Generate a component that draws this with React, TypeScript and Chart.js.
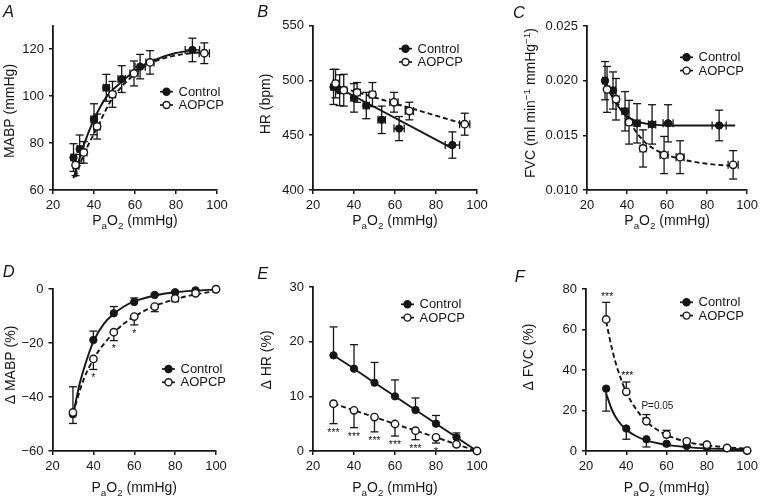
import React, { useEffect, useRef } from 'react';
import { Chart, registerables } from 'chart.js';

Chart.register(...registerables);

const FONT = "'Liberation Sans', Arial, Helvetica, sans-serif";
const INK = '#161616';

// ---------------- shared ----------------
const xMin = 20;
const xMax = 100;
const xStep = 20;
const ctrlXErr = [1.2, 1.2, 1.5, 1.5, 1.8, 2.5, 3.5];
const aopXErr = [1.2, 1.5, 1.5, 1.5, 2, 2, 2.5];
const pctX = [30, 40, 50, 60, 70, 80, 90, 100];
const legendLabels = ['Control', 'AOPCP'];

// ---------------- Panel A : MABP ----------------
const aCtrlX = [30, 33, 40, 46, 53.5, 62.5, 88];
const aCtrlY = [73.8, 77.4, 90.1, 103.5, 107.2, 112.5, 119.6];
const aCtrlSd = [5.9, 6, 6.6, 5.7, 5.7, 5.2, 5];
const aAopX = [31, 35, 41.5, 49, 59.5, 67.3, 93.8];
const aAopY = [70.6, 76, 87, 100.7, 109.6, 114.3, 118.2];
const aAopSd = [4.5, 4.6, 5.3, 5.5, 5.3, 5, 4.4];
const aCtrlFitX = [30, 35, 40, 46, 53.5, 62, 70, 80, 90];
const aCtrlFitY = [65, 79, 90, 99.5, 106, 112, 115.5, 118.3, 119.6];
const aAopFitX = [31, 35, 41.5, 49, 59.5, 67.3, 80, 94];
const aAopFitY = [65.5, 75, 86.5, 99, 109, 113.8, 117.3, 118.8];

// ---------------- Panel B : HR ----------------
const bCtrlX = [30, 33, 40, 46, 53.5, 62, 88];
const bCtrlY = [494, 491, 484, 477, 464, 456, 441];
const bCtrlSd = [16, 14, 13, 12, 12.5, 11, 12];
const bAopX = [31, 35, 41.5, 49, 59.5, 67, 94];
const bAopY = [497, 491, 489, 487, 480, 472, 460];
const bAopSd = [13, 14.5, 9, 11, 9, 8, 10];
const bCtrlFitX = [30, 88];
const bCtrlFitY = [495.5, 438];
const bAopFitX = [31, 94];
const bAopFitY = [495, 460];

// ---------------- Panel C : FVC ----------------
const cCtrlX = [29, 33, 39, 45, 52.5, 60.5, 86];
const cCtrlY = [0.02, 0.0191, 0.0172, 0.0161, 0.016, 0.0161, 0.0159];
const cCtrlSd = [0.00175, 0.0017, 0.0018, 0.0018, 0.0018, 0.0017, 0.0014];
const cAopX = [30, 34.5, 41, 48, 58.5, 66.5, 93];
const cAopY = [0.0192, 0.0183, 0.0162, 0.0138, 0.0132, 0.013, 0.0123];
const cAopSd = [0.0021, 0.0019, 0.002, 0.0017, 0.0017, 0.0015, 0.0013];
const cCtrlFitX = [29, 32, 35, 38, 42, 46, 52, 60, 70, 94];
const cCtrlFitY = [0.0199, 0.0187, 0.0178, 0.0171, 0.0165, 0.0162, 0.016, 0.0159, 0.0159, 0.0159];
const cAopFitX = [30, 35, 40, 45, 50, 55, 60, 70, 80, 93];
const cAopFitY = [0.0193, 0.018, 0.0166, 0.0152, 0.0142, 0.0136, 0.0132, 0.0127, 0.0124, 0.0122];

// ---------------- Panel D : delta MABP ----------------
const dCtrlY = [-46.4, -18.9, -9.0, -4.8, -2.2, -1.2, -0.5, 0];
const dCtrlUp = [0, 3.3, 2.5, 1.5, 0.5, 0.3, 0.2, 0];
const dCtrlDn = [3.4, 0, 0, 0, 0, 0, 0, 0];
const dAopY = [-45.7, -25.9, -16.0, -10.2, -6.5, -3.5, -1.6, -0.1];
const dAopUp = [9.5, 0, 0, 0, 0, 0, 0, 0];
const dAopDn = [0, 3.9, 3.1, 3.1, 1.9, 1.2, 0.5, 0];
const dAopMarks = ['', '*', '*', '*', '', '', '', ''];
const dCtrlFitX = [30, 33, 36, 40, 45, 50, 55, 60, 70, 80, 90, 100];
const dCtrlFitY = [-47, -36, -28, -19.5, -13, -9.2, -6.5, -4.6, -2.4, -1.2, -0.6, -0.2];
const dAopFitX = [30, 35, 40, 45, 50, 55, 60, 70, 80, 90, 100];
const dAopFitY = [-46, -34, -26, -20.5, -16.2, -12.8, -10.2, -6.3, -3.8, -2.0, -0.8];

// ---------------- Panel E : delta HR ----------------
const eCtrlY = [17.5, 15.06, 12.5, 10, 7.5, 5, 2.5, 0];
const eCtrlUp = [5.2, 4.4, 3.7, 3.0, 2.2, 1.5, 0.8, 0];
const eAopY = [8.66, 7.44, 6.2, 4.94, 3.72, 2.5, 1.22, 0];
const eAopDn = [3.66, 3.17, 2.7, 2.2, 1.65, 1.04, 0.3, 0];
const eAopMarks = ['***', '***', '***', '***', '***', '*', '', ''];
const zeros8 = [0, 0, 0, 0, 0, 0, 0, 0];

// ---------------- Panel F : delta FVC ----------------
const fCtrlY = [30.8, 11.1, 5.8, 3.6, 2.5, 1.8, 1.3, 0.2];
const fCtrlDn = [11.1, 5.3, 3.8, 1, 0.5, 0.3, 0.2, 0];
const fAopY = [65.0, 29.2, 14.7, 8.1, 4.8, 3.1, 1.5, 0.2];
const fAopUp = [8.4, 4.9, 3.3, 2.1, 1.0, 0.5, 0.3, 0];
const fAopMarks = ['***', '***', 'P=0.05', '', '', '', '', ''];
const fCtrlFitX = [30, 33, 36, 40, 45, 50, 60, 70, 80, 90, 100];
const fCtrlFitY = [28.4, 20, 14.8, 10.5, 7.3, 5.2, 3, 1.9, 1.3, 1.0, 0.8];
const fAopFitX = [30, 33, 36, 40, 45, 50, 55, 60, 70, 80, 90, 100];
const fAopFitY = [64, 50, 39.5, 29, 20.5, 14.5, 10.7, 7.9, 4.5, 2.8, 1.8, 1.2];

// ---------------- types ----------------
type Seg = { t: string; s?: 'sub' | 'sup' };
interface Series {
  x: number[]; y: number[]; up: number[]; dn: number[]; xe?: number[];
  marks?: string[]; markSide?: 'above' | 'below';
}
interface Panel {
  letter: string; letterPos: [number, number];
  box: [number, number, number, number];
  area: [number, number, number, number];
  yMin: number; yMax: number; yStep: number; yBounds: boolean; yFmt?: (v: number) => string;
  yTitle: Seg[]; yTitlePos: [number, number];
  xTitleY: number; legendPos: [number, number];
  ctrl: Series; aop: Series;
  ctrlFit: [number[], number[]]; aopFit: [number[], number[]];
}

const xTitle: Seg[] = [{ t: 'P' }, { t: 'a', s: 'sub' }, { t: 'O' }, { t: '2', s: 'sub' }, { t: ' (mmHg)' }];
const minus = (v: number) => String(v).replace('-', '\u2212');

const PANELS: Panel[] = [
  {
    letter: 'A', letterPos: [3, 16.7], box: [0, 0, 254, 248], area: [53, 25.5, 217, 190],
    yMin: 60, yMax: 130, yStep: 20, yBounds: false,
    yTitle: [{ t: 'MABP (mmHg)' }], yTitlePos: [8.5, 111], xTitleY: 220, legendPos: [160, 91.7],
    ctrl: { x: aCtrlX, y: aCtrlY, up: aCtrlSd, dn: aCtrlSd, xe: ctrlXErr },
    aop: { x: aAopX, y: aAopY, up: aAopSd, dn: aAopSd, xe: aopXErr },
    ctrlFit: [aCtrlFitX, aCtrlFitY], aopFit: [aAopFitX, aAopFitY],
  },
  {
    letter: 'B', letterPos: [257.3, 16.7], box: [254, 0, 254, 248], area: [313, 25.5, 477, 190],
    yMin: 400, yMax: 550, yStep: 50, yBounds: true,
    yTitle: [{ t: 'HR (bpm)' }], yTitlePos: [265, 104], xTitleY: 220, legendPos: [399, 48.7],
    ctrl: { x: bCtrlX, y: bCtrlY, up: bCtrlSd, dn: bCtrlSd, xe: ctrlXErr },
    aop: { x: bAopX, y: bAopY, up: bAopSd, dn: bAopSd, xe: aopXErr },
    ctrlFit: [bCtrlFitX, bCtrlFitY], aopFit: [bAopFitX, bAopFitY],
  },
  {
    letter: 'C', letterPos: [513, 18], box: [508, 0, 254, 248], area: [587, 26, 751, 190],
    yMin: 0.01, yMax: 0.025, yStep: 0.005, yBounds: true, yFmt: (v) => v.toFixed(3),
    yTitle: [{ t: 'FVC (ml min' }, { t: '\u22121', s: 'sup' }, { t: ' mmHg' }, { t: '\u22121', s: 'sup' }, { t: ')' }],
    yTitlePos: [529.5, 103], xTitleY: 220, legendPos: [680, 57.3],
    ctrl: { x: cCtrlX, y: cCtrlY, up: cCtrlSd, dn: cCtrlSd, xe: ctrlXErr },
    aop: { x: cAopX, y: cAopY, up: cAopSd, dn: cAopSd, xe: aopXErr },
    ctrlFit: [cCtrlFitX, cCtrlFitY], aopFit: [cAopFitX, cAopFitY],
  },
  {
    letter: 'D', letterPos: [2.7, 276.7], box: [0, 248, 254, 249], area: [52.5, 289, 216, 451],
    yMin: -60, yMax: 0, yStep: 20, yBounds: true, yFmt: minus,
    yTitle: [{ t: '\u0394 MABP (%)' }], yTitlePos: [10, 365], xTitleY: 487, legendPos: [162, 369],
    ctrl: { x: pctX, y: dCtrlY, up: dCtrlUp, dn: dCtrlDn },
    aop: { x: pctX, y: dAopY, up: dAopUp, dn: dAopDn, marks: dAopMarks, markSide: 'below' },
    ctrlFit: [dCtrlFitX, dCtrlFitY], aopFit: [dAopFitX, dAopFitY],
  },
  {
    letter: 'E', letterPos: [257.3, 279.3], box: [254, 248, 254, 249], area: [313, 287, 477, 451],
    yMin: 0, yMax: 30, yStep: 10, yBounds: true,
    yTitle: [{ t: '\u0394 HR (%)' }], yTitlePos: [265.5, 360], xTitleY: 487, legendPos: [401, 304.3],
    ctrl: { x: pctX, y: eCtrlY, up: eCtrlUp, dn: zeros8 },
    aop: { x: pctX, y: eAopY, up: zeros8, dn: eAopDn, marks: eAopMarks, markSide: 'below' },
    ctrlFit: [pctX, eCtrlY], aopFit: [pctX, eAopY],
  },
  {
    letter: 'F', letterPos: [514.7, 281.7], box: [508, 248, 254, 249], area: [586, 289, 751, 451],
    yMin: 0, yMax: 80, yStep: 20, yBounds: true,
    yTitle: [{ t: '\u0394 FVC (%)' }], yTitlePos: [528, 357], xTitleY: 487, legendPos: [680, 302.3],
    ctrl: { x: pctX, y: fCtrlY, up: zeros8, dn: fCtrlDn },
    aop: { x: pctX, y: fAopY, up: fAopUp, dn: zeros8, marks: fAopMarks, markSide: 'above' },
    ctrlFit: [fCtrlFitX, fCtrlFitY], aopFit: [fAopFitX, fAopFitY],
  },
];

// ---------------- drawing helpers ----------------
function drawRich(ctx: CanvasRenderingContext2D, segs: Seg[], x: number, y: number, size: number, rotate: boolean) {
  ctx.save();
  ctx.translate(x, y);
  if (rotate) ctx.rotate(-Math.PI / 2);
  const widths = segs.map((sg) => {
    ctx.font = `${sg.s ? size * 0.7 : size}px ${FONT}`;
    return ctx.measureText(sg.t).width;
  });
  const total = widths.reduce((a, b) => a + b, 0);
  let cx = -total / 2;
  ctx.textAlign = 'left';
  ctx.textBaseline = 'alphabetic';
  ctx.fillStyle = INK;
  const base = size * 0.36;
  segs.forEach((sg, i) => {
    ctx.font = `${sg.s ? size * 0.7 : size}px ${FONT}`;
    const dy = sg.s === 'sub' ? size * 0.28 : sg.s === 'sup' ? -size * 0.36 : 0;
    ctx.fillText(sg.t, cx, base + dy);
    cx += widths[i];
  });
  ctx.restore();
}

function drawErrors(chart: any, s: Series) {
  const ctx: CanvasRenderingContext2D = chart.ctx;
  const xs = chart.scales.x;
  const ys = chart.scales.y;
  const cap = 4;
  ctx.save();
  ctx.strokeStyle = INK;
  ctx.lineWidth = 1.3;
  const seg = (x1: number, y1: number, x2: number, y2: number) => {
    ctx.beginPath(); ctx.moveTo(x1, y1); ctx.lineTo(x2, y2); ctx.stroke();
  };
  s.x.forEach((xv, i) => {
    const px = xs.getPixelForValue(xv);
    const py = ys.getPixelForValue(s.y[i]);
    if (s.up[i] > 0) {
      const q = ys.getPixelForValue(s.y[i] + s.up[i]);
      seg(px, py, px, q); seg(px - cap, q, px + cap, q);
    }
    if (s.dn[i] > 0) {
      const q = ys.getPixelForValue(s.y[i] - s.dn[i]);
      seg(px, py, px, q); seg(px - cap, q, px + cap, q);
    }
    const xe = s.xe ? s.xe[i] : 0;
    if (xe > 0) {
      const a = xs.getPixelForValue(xv - xe);
      const b = xs.getPixelForValue(xv + xe);
      seg(a, py, b, py); seg(a, py - cap, a, py + cap); seg(b, py - cap, b, py + cap);
    }
  });
  ctx.restore();
}

function drawMarks(chart: any, s: Series) {
  if (!s.marks) return;
  const ctx: CanvasRenderingContext2D = chart.ctx;
  const xs = chart.scales.x;
  const ys = chart.scales.y;
  ctx.save();
  ctx.fillStyle = INK;
  ctx.textAlign = 'center';
  ctx.textBaseline = 'middle';
  s.marks.forEach((m, i) => {
    if (!m) return;
    const px = xs.getPixelForValue(s.x[i]);
    const star = m.charAt(0) === '*';
    if (s.markSide === 'below') {
      const q = ys.getPixelForValue(s.y[i] - s.dn[i]);
      ctx.font = `10.5px ${FONT}`;
      ctx.fillText(m, px, q + 9);
    } else {
      const q = ys.getPixelForValue(s.y[i] + s.up[i]);
      if (star) {
        ctx.font = `10.5px ${FONT}`;
        ctx.fillText(m, px + 1, q - 5.6);
      } else {
        ctx.font = `10px ${FONT}`;
        ctx.fillText(m, px + 11, q - 8.6);
      }
    }
  });
  ctx.restore();
}

function drawLegend(ctx: CanvasRenderingContext2D, x0: number, y0: number) {
  legendLabels.forEach((label, i) => {
    const y = y0 + i * 13.3;
    ctx.save();
    ctx.strokeStyle = INK;
    ctx.lineWidth = 1.7;
    ctx.beginPath(); ctx.moveTo(x0, y); ctx.lineTo(x0 + 13, y); ctx.stroke();
    ctx.beginPath(); ctx.arc(x0 + 6.5, y, 3.5, 0, Math.PI * 2);
    ctx.fillStyle = i === 0 ? INK : '#ffffff';
    ctx.fill();
    ctx.lineWidth = 1.4;
    ctx.stroke();
    ctx.fillStyle = INK;
    ctx.font = `13px ${FONT}`;
    ctx.textAlign = 'left';
    ctx.textBaseline = 'middle';
    ctx.fillText(label, x0 + 18.5, y + 0.5);
    ctx.restore();
  });
}

function buildConfig(p: Panel): any {
  const [bl, bt, bw, bh] = p.box;
  const [al, at, ar, ab] = p.area;
  const pts = (xs: number[], ys: number[]) => xs.map((x, i) => ({ x, y: ys[i] }));
  const tickFont = { family: FONT, size: 13 };
  const deco = {
    id: 'deco' + p.letter,
    beforeDatasetsDraw(chart: any) {
      drawErrors(chart, p.ctrl);
      drawErrors(chart, p.aop);
    },
    afterDraw(chart: any) {
      const ctx: CanvasRenderingContext2D = chart.ctx;
      drawMarks(chart, p.ctrl);
      drawMarks(chart, p.aop);
      drawLegend(ctx, p.legendPos[0] - bl, p.legendPos[1] - bt);
      const ca = chart.chartArea;
      drawRich(ctx, xTitle, (ca.left + ca.right) / 2, p.xTitleY - bt, 14, false);
      drawRich(ctx, p.yTitle, p.yTitlePos[0] - bl, p.yTitlePos[1] - bt, 14, true);
      ctx.save();
      ctx.fillStyle = INK;
      ctx.font = `italic 16.5px ${FONT}`;
      ctx.textAlign = 'left';
      ctx.textBaseline = 'alphabetic';
      ctx.fillText(p.letter, p.letterPos[0] - bl, p.letterPos[1] - bt);
      ctx.restore();
    },
  };
  const lineDs = (xs: number[], ys: number[], dash: number[], order: number) => ({
    type: 'line',
    data: pts(xs, ys),
    borderColor: INK,
    borderWidth: 1.9,
    borderDash: dash,
    pointRadius: 0,
    fill: false,
    cubicInterpolationMode: 'monotone',
    clip: false,
    order,
  });
  return {
    type: 'scatter',
    data: {
      datasets: [
        lineDs(p.ctrlFit[0], p.ctrlFit[1], [], 4),
        lineDs(p.aopFit[0], p.aopFit[1], [5, 3], 3),
        {
          type: 'scatter', label: 'Control', data: pts(p.ctrl.x, p.ctrl.y),
          pointRadius: 3.7, backgroundColor: INK, borderColor: INK, borderWidth: 1,
          showLine: false, clip: false, order: 2,
        },
        {
          type: 'scatter', label: 'AOPCP', data: pts(p.aop.x, p.aop.y),
          pointRadius: 3.7, backgroundColor: '#ffffff', borderColor: INK, borderWidth: 1.4,
          showLine: false, clip: false, order: 1,
        },
      ],
    },
    options: {
      responsive: false,
      animation: false,
      events: [],
      layout: { padding: { left: 0, top: at - bt, right: bl + bw - ar, bottom: 0 } },
      plugins: { legend: { display: false }, tooltip: { enabled: false } },
      scales: {
        x: {
          type: 'linear', min: xMin, max: xMax,
          ticks: { stepSize: xStep, padding: 4, font: tickFont, color: INK, maxRotation: 0 },
          grid: { drawOnChartArea: false, drawTicks: true, tickLength: 4, color: INK, lineWidth: 1.5 },
          border: { display: true, color: INK, width: 1.8 },
          afterFit: (s: any) => { s.height = bt + bh - ab; },
        },
        y: {
          type: 'linear', min: p.yMin, max: p.yMax,
          ticks: {
            stepSize: p.yStep, padding: 5, font: tickFont, color: INK, includeBounds: p.yBounds,
            callback: (v: any) => (p.yFmt ? p.yFmt(Number(v)) : String(v)),
          },
          grid: { drawOnChartArea: false, drawTicks: true, tickLength: 4, color: INK, lineWidth: 1.5 },
          border: { display: true, color: INK, width: 1.8 },
          afterFit: (s: any) => { s.width = al - bl; },
        },
      },
    },
    plugins: [deco],
  };
}

function PanelChart({ p }: { p: Panel }) {
  const ref = useRef<HTMLCanvasElement>(null);
  useEffect(() => {
    if (!ref.current) return;
    const chart = new Chart(ref.current, buildConfig(p));
    return () => chart.destroy();
  }, [p]);
  const [l, t, w, h] = p.box;
  return (
    <canvas
      ref={ref}
      width={w}
      height={h}
      style={{ position: 'absolute', left: l, top: t, width: w, height: h, display: 'block' }}
    />
  );
}

export default function App() {
  useEffect(() => {
    document.body.style.margin = '0';
  }, []);
  return (
    <div style={{ position: 'absolute', left: 0, top: 0, width: 762, height: 497, background: '#ffffff', overflow: 'hidden' }}>
      {PANELS.map((p) => (
        <PanelChart key={p.letter} p={p} />
      ))}
    </div>
  );
}
